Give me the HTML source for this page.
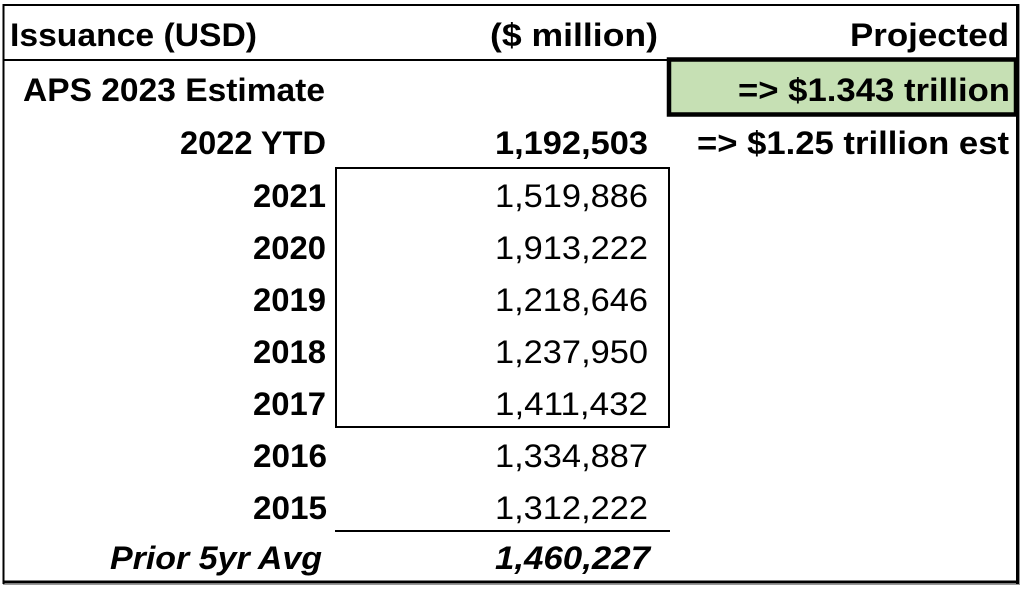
<!DOCTYPE html>
<html>
<head>
<meta charset="utf-8">
<style>
  html, body { margin:0; padding:0; background:#fff; }
  body { width:1024px; height:591px; overflow:hidden; }
  svg { display:block; }
  text { font-family:"Liberation Sans", Arial, sans-serif; font-size:32px; fill:#000; }
  .b { font-weight:bold; }
  .bi { font-weight:bold; font-style:italic; }
</style>
</head>
<body>
<svg width="1024" height="591" viewBox="0 0 1024 591" xmlns="http://www.w3.org/2000/svg">
  <rect x="0" y="0" width="1024" height="591" fill="#ffffff"/>
  <!-- outer border -->
  <line x1="3.5" y1="4" x2="3.5" y2="584" stroke="#000" stroke-width="2"/>
  <line x1="3" y1="5" x2="1019" y2="5" stroke="#000" stroke-width="2"/>
  <line x1="1017.5" y1="4" x2="1017.5" y2="584" stroke="#000" stroke-width="3"/>
  <line x1="1019.5" y1="4" x2="1019.5" y2="585" stroke="#999" stroke-width="1"/>
  <line x1="3" y1="582" x2="1019" y2="582" stroke="#000" stroke-width="3"/>
  <line x1="3" y1="584.5" x2="1020" y2="584.5" stroke="#999" stroke-width="1"/>

  <!-- header separator -->
  <line x1="3" y1="60" x2="668" y2="60" stroke="#000" stroke-width="2"/>

  <!-- green box -->
  <rect x="669" y="59.5" width="347" height="55" fill="#c6e0b4" stroke="#000" stroke-width="4.5"/>

  <!-- inner box -->
  <rect x="336" y="168" width="333" height="259" fill="none" stroke="#000" stroke-width="2"/>
  <!-- underline -->
  <line x1="335" y1="531" x2="670" y2="531" stroke="#000" stroke-width="2"/>

  <!-- header -->
  <text class="b" x="10" y="46" textLength="247" lengthAdjust="spacingAndGlyphs">Issuance (USD)</text>
  <text class="b" x="490" y="46" textLength="168" lengthAdjust="spacingAndGlyphs">($ million)</text>
  <text class="b" x="850" y="46" textLength="159" lengthAdjust="spacingAndGlyphs">Projected</text>

  <!-- APS row -->
  <text class="b" x="23" y="101" textLength="302" lengthAdjust="spacingAndGlyphs">APS 2023 Estimate</text>
  <text class="b" x="738" y="101" textLength="272" lengthAdjust="spacingAndGlyphs">=&gt; $1.343 trillion</text>

  <!-- 2022 YTD -->
  <text class="b" x="180" y="154" textLength="146" lengthAdjust="spacingAndGlyphs">2022 YTD</text>
  <text class="b" x="495" y="154" textLength="153" lengthAdjust="spacingAndGlyphs">1,192,503</text>
  <text class="b" x="697" y="154" textLength="312" lengthAdjust="spacingAndGlyphs">=&gt; $1.25 trillion est</text>

  <!-- years -->
  <text class="b" x="253" y="207" textLength="73" lengthAdjust="spacingAndGlyphs">2021</text>
  <text x="495" y="207" textLength="153" lengthAdjust="spacingAndGlyphs">1,519,886</text>

  <text class="b" x="253" y="259" textLength="73" lengthAdjust="spacingAndGlyphs">2020</text>
  <text x="495" y="259" textLength="153" lengthAdjust="spacingAndGlyphs">1,913,222</text>

  <text class="b" x="253" y="311" textLength="73" lengthAdjust="spacingAndGlyphs">2019</text>
  <text x="495" y="311" textLength="153" lengthAdjust="spacingAndGlyphs">1,218,646</text>

  <text class="b" x="253" y="363" textLength="73" lengthAdjust="spacingAndGlyphs">2018</text>
  <text x="495" y="363" textLength="153" lengthAdjust="spacingAndGlyphs">1,237,950</text>

  <text class="b" x="253" y="415" textLength="73" lengthAdjust="spacingAndGlyphs">2017</text>
  <text x="495" y="415" textLength="153" lengthAdjust="spacingAndGlyphs">1,411,432</text>

  <text class="b" x="253" y="467" textLength="74" lengthAdjust="spacingAndGlyphs">2016</text>
  <text x="495" y="467" textLength="153" lengthAdjust="spacingAndGlyphs">1,334,887</text>

  <text class="b" x="253" y="519" textLength="74" lengthAdjust="spacingAndGlyphs">2015</text>
  <text x="495" y="519" textLength="153" lengthAdjust="spacingAndGlyphs">1,312,222</text>

  <!-- prior avg -->
  <text class="bi" x="110" y="569" textLength="212" lengthAdjust="spacingAndGlyphs">Prior 5yr Avg</text>
  <text class="bi" x="495" y="569" textLength="155" lengthAdjust="spacingAndGlyphs">1,460,227</text>
</svg>
</body>
</html>
